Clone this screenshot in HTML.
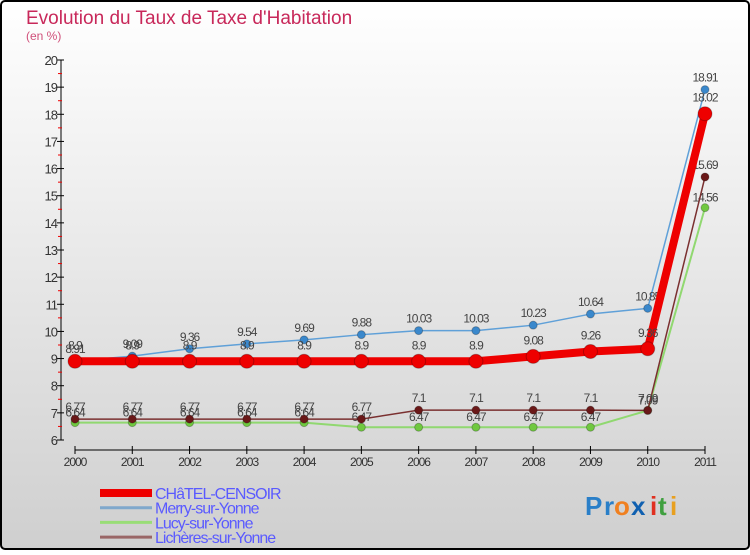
<!DOCTYPE html>
<html><head><meta charset="utf-8">
<style>
html,body{margin:0;padding:0;}
body{width:750px;height:550px;overflow:hidden;font-family:"Liberation Sans",sans-serif;}
svg text{font-family:"Liberation Sans",sans-serif;}
</style></head>
<body>
<svg id="chart" width="750" height="550" xmlns="http://www.w3.org/2000/svg">
<defs>
<linearGradient id="bg" x1="0" y1="0" x2="0" y2="1">
<stop offset="0" stop-color="#ffffff"/><stop offset="1" stop-color="#cfcfcf"/>
</linearGradient>
</defs>
<rect x="1" y="1" width="748" height="548" rx="4" fill="url(#bg)" stroke="#000" stroke-width="2"/>
<text x="26" y="24" font-size="19" fill="#c8285a">Evolution du Taux de Taxe d'Habitation</text>
<text x="26" y="40" font-size="12" fill="#d0507a">(en %)</text>
<g id="axes"></g>
<g id="series"></g>
<g id="legend"></g>
<g font-size="26" font-weight="bold">
<text x="585" y="515" fill="#2a7fc8">P</text><text x="604" y="515" fill="#2a7fc8">r</text>
<text x="614" y="515" fill="#f08020">o</text><text x="631" y="515" fill="#1060b0">x</text>
<text x="650" y="515" fill="#e03020">i</text><text x="658" y="515" fill="#40a040">t</text>
<text x="670" y="515" fill="#e8a020">i</text>
</g>
</svg>
<script>
const years=[2000,2001,2002,2003,2004,2005,2006,2007,2008,2009,2010,2011];
const chatel=[8.9,8.9,8.9,8.9,8.9,8.9,8.9,8.9,9.08,9.26,9.36,18.02];
const merry=[8.91,9.09,9.36,9.54,9.69,9.88,10.03,10.03,10.23,10.64,10.85,18.91];
const lucy=[6.64,6.64,6.64,6.64,6.64,6.47,6.47,6.47,6.47,6.47,7.09,14.56];
const licheres=[6.77,6.77,6.77,6.77,6.77,6.77,7.1,7.1,7.1,7.1,7.09,15.69];
const yTicks=[6,7,8,9,10,11,12,13,14,15,16,17,18,19,20];
const seriesNames=["CHâTEL-CENSOIR","Merry-sur-Yonne","Lucy-sur-Yonne","Lichères-sur-Yonne"];

const NS="http://www.w3.org/2000/svg";
const x=i=>75+i*(630/11);
const y=v=>440-(v-6)*(380/14);
function mk(tag,attrs,parent){const e=document.createElementNS(NS,tag);for(const k in attrs)e.setAttribute(k,attrs[k]);parent.appendChild(e);return e;}
const axes=document.getElementById('axes');
const yAxis=mk('line',{x1:61,y1:y(20),x2:61,y2:y(6),stroke:'#000','stroke-width':1},axes);


yTicks.forEach(t=>{
  const tk=mk('line',{x1:57,y1:y(t),x2:64,y2:y(t),stroke:'#000'},axes);
  
  
  if(t<20){const m=mk('line',{x1:58,y1:y(t+0.5),x2:62,y2:y(t+0.5),stroke:'#e00'},axes);
    
    }
  const tx=mk('text',{x:57,y:y(t)+5,'text-anchor':'end','font-size':13,fill:'#333','letter-spacing':'-1'},axes);
  
  
  tx.textContent=t;
});
const xAxis=mk('line',{x1:75,y1:450,x2:705,y2:450,stroke:'#000'},axes);


years.forEach((yr,i)=>{
  const tk=mk('line',{x1:x(i),y1:446,x2:x(i),y2:454,stroke:'#000'},axes);
  
  
  const tx=mk('text',{x:x(i),y:466,'text-anchor':'middle','font-size':12,fill:'#333','letter-spacing':'-1'},axes);
  
  
  tx.textContent=yr;
});
const sg=document.getElementById('series');
function draw(data,color,mcolor,w,r,name,labelDy){
  const g=mk('g',{},sg);
  
  
  const p=mk('polyline',{points:data.map((v,i)=>x(i)+','+y(v)).join(' '),fill:'none',stroke:color,'stroke-width':w,'stroke-linejoin':'round'},g);
  
  
  data.forEach((v,i)=>{
    const c=mk('circle',{cx:x(i),cy:y(v),r:r,fill:mcolor,stroke:'rgba(0,0,0,0.25)','stroke-width':1},g);
    
    
    const t=mk('text',{x:x(i),y:y(v)+labelDy,'text-anchor':'middle','font-size':12,fill:'#444','letter-spacing':'-1'},g);
    
    
    t.textContent=String(v);
  });
}
draw(lucy,'#90d870','#70c840',2,4,'lucy',-6);
draw(licheres,'#7a3030','#6a1818',1.5,4,'licheres',-8);
draw(merry,'#5fa0d8','#3a88cc',1.5,4,'merry',-8);
draw(chatel,'#ee0000','#ee0000',8,7,'chatel',-12);
const lg=document.getElementById('legend');
const lc=[['#ee0000',8],['#7fa8cc',3],['#99dd77',3],['#996666',3]];
seriesNames.forEach((n,i)=>{
  const ly=493+i*14.7;
  const l=mk('line',{x1:100,y1:ly,x2:152,y2:ly,stroke:lc[i][0],'stroke-width':lc[i][1]},lg);
  
  
  const t=mk('text',{x:155,y:ly+6,'font-size':16,fill:'#5a5aff','letter-spacing':'-1'},lg);
  
  
  t.textContent=n;
});
</script>
</body></html>
